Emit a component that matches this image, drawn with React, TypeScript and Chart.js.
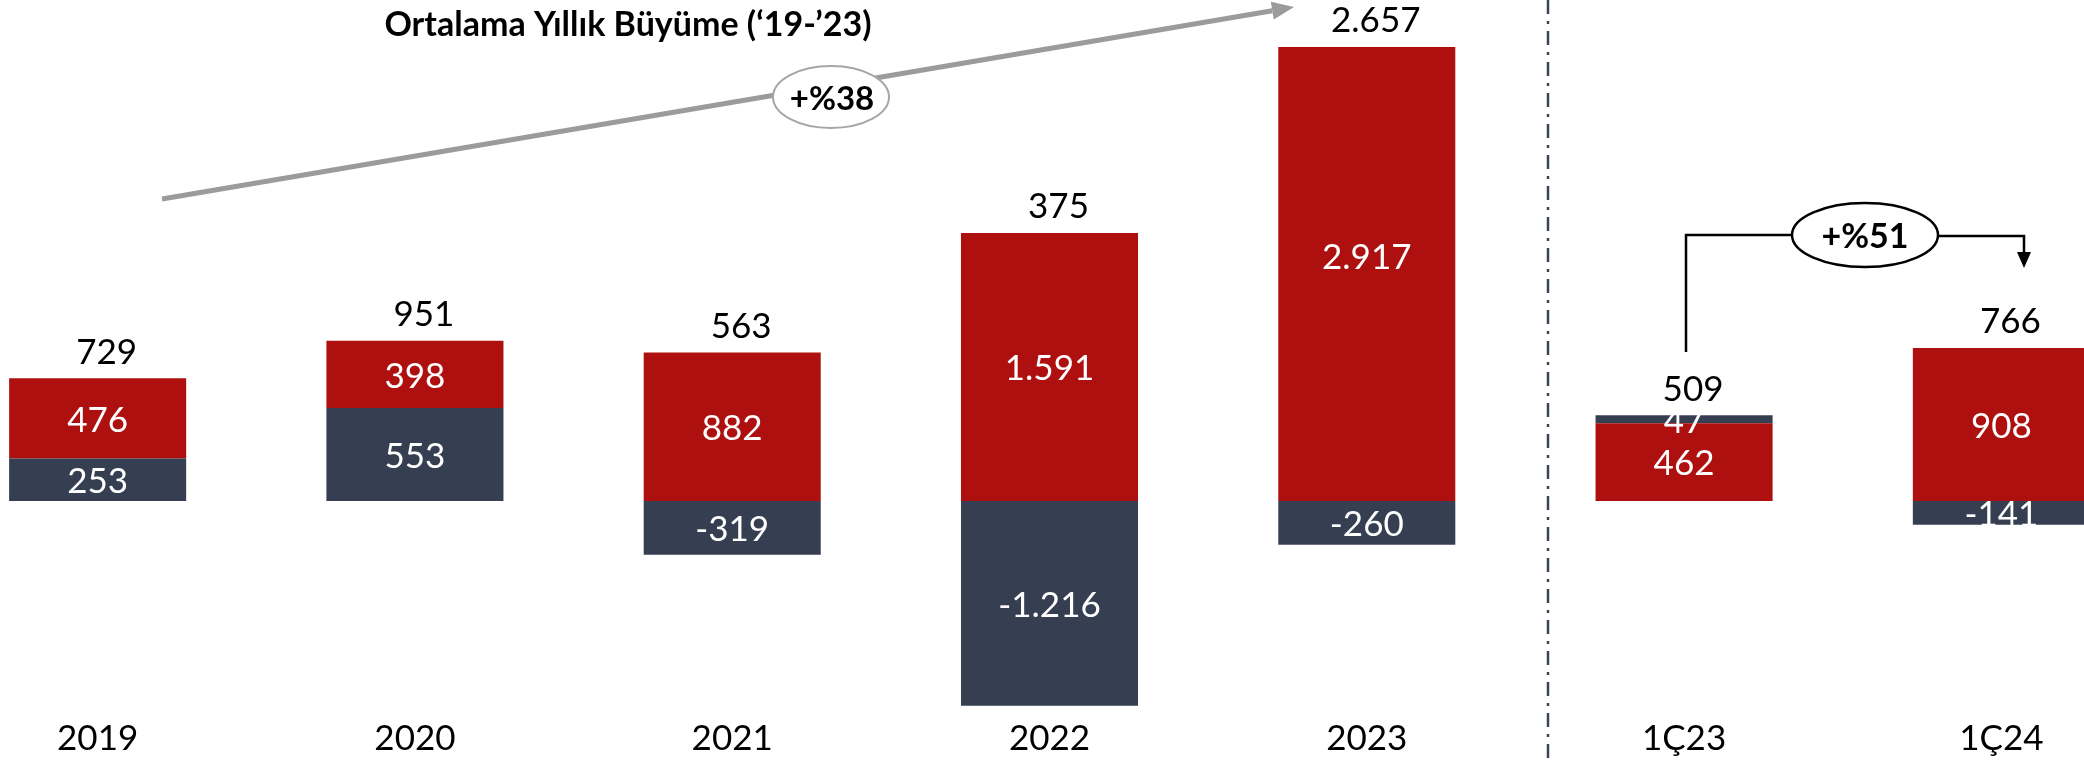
import React, { useEffect, useRef } from "react";
import { Chart, registerables } from "chart.js";

Chart.register(...registerables);

// ---------- data ----------
const categories = ["2019", "2020", "2021", "2022", "2023", "1Ç23", "1Ç24"];
const redValues = [476, 398, 882, 1591, 2917, 462, 908];
const navyValues = [253, 553, -319, -1216, -260, 47, -141];
const navyOnTop = [false, false, false, false, false, true, false];
const totals = [729, 951, 563, 375, 2657, 509, 766];
const titleText = "Ortalama Yıllık Büyüme (‘19-’23)";
const cagrText = "+%38";
const quarterText = "+%51";

// ---------- styling / layout ----------
const RED = "#AE1010";
const NAVY = "#353F51";
const FONT = "Lato, 'Open Sans', sans-serif";
const CANVAS_W = 2221;
const CANVAS_H = 761;
const OFFSET_X = 61; // canvas shifted left so first category is centred like the reference
const Y_MIN = -1247;
const Y_MAX = 2696;

const fmt = (v: number) => {
  const s = Math.abs(Math.round(v))
    .toString()
    .replace(/\B(?=(\d{3})+(?!\d))/g, ".");
  return (v < 0 ? "-" : "") + s;
};

const px = (pageX: number) => pageX + OFFSET_X;

const labelsPlugin = {
  id: "valueLabels",
  afterDatasetsDraw(chart: any) {
    const ctx = chart.ctx as CanvasRenderingContext2D;
    const area = chart.chartArea;
    ctx.save();
    ctx.textAlign = "center";
    ctx.textBaseline = "middle";
    ctx.font = `35px ${FONT}`;
    ctx.fillStyle = "#FFFFFF";
    const tops: number[] = categories.map(() => Infinity);
    chart.data.datasets.forEach((ds: any, di: number) => {
      const meta = chart.getDatasetMeta(di);
      meta.data.forEach((el: any, i: number) => {
        const v = ds.data[i];
        if (v == null) return;
        const { x, y, base } = el.getProps(["x", "y", "base"], true);
        tops[i] = Math.min(tops[i], y, base);
        ctx.fillText(fmt(v), x, (y + base) / 2 + 2);
      });
    });
    // totals
    ctx.fillStyle = "#000000";
    const xs = chart.scales.x;
    totals.forEach((t, i) => {
      const top = Math.max(area.top, tops[i]);
      ctx.fillText(fmt(t), xs.getPixelForValue(i) + 9, top - 26);
    });
    ctx.restore();
  },
};

const decorPlugin = {
  id: "decor",
  afterDraw(chart: any) {
    const ctx = chart.ctx as CanvasRenderingContext2D;
    ctx.save();

    // title
    ctx.fillStyle = "#000";
    ctx.font = `bold 34px ${FONT}`;
    ctx.textAlign = "center";
    ctx.textBaseline = "middle";
    ctx.fillText(titleText, px(628), 25);

    // grey growth arrow
    const x1 = px(162), y1 = 199, x2 = px(1294), y2 = 7;
    const ang = Math.atan2(y2 - y1, x2 - x1);
    const hl = 22, hw = 9;
    ctx.strokeStyle = "#9B9B9B";
    ctx.fillStyle = "#9B9B9B";
    ctx.lineWidth = 5;
    ctx.beginPath();
    ctx.moveTo(x1, y1);
    ctx.lineTo(x2 - Math.cos(ang) * hl, y2 - Math.sin(ang) * hl);
    ctx.stroke();
    ctx.beginPath();
    ctx.moveTo(x2, y2);
    ctx.lineTo(x2 - Math.cos(ang) * hl - Math.sin(ang) * hw, y2 - Math.sin(ang) * hl + Math.cos(ang) * hw);
    ctx.lineTo(x2 - Math.cos(ang) * hl + Math.sin(ang) * hw, y2 - Math.sin(ang) * hl - Math.cos(ang) * hw);
    ctx.closePath();
    ctx.fill();

    // bubble +%38
    ctx.beginPath();
    ctx.ellipse(px(831), 97, 58, 31, 0, 0, Math.PI * 2);
    ctx.fillStyle = "#FFFFFF";
    ctx.fill();
    ctx.lineWidth = 2;
    ctx.strokeStyle = "#A6A6A6";
    ctx.stroke();
    ctx.fillStyle = "#000";
    ctx.font = `bold 33px ${FONT}`;
    ctx.fillText(cagrText, px(832), 99);

    // divider (dash-dot)
    ctx.beginPath();
    ctx.setLineDash([14, 7, 3, 7]);
    ctx.strokeStyle = "#3B4557";
    ctx.lineWidth = 2.5;
    ctx.moveTo(px(1548), 0);
    ctx.lineTo(px(1548), CANVAS_H);
    ctx.stroke();
    ctx.setLineDash([]);

    // quarterly bracket +%51
    const xl = px(1686), xr = px(2024), ly = 235;
    const ecx = px(1865), erx = 73, ery = 32;
    ctx.strokeStyle = "#000";
    ctx.lineWidth = 2.5;
    ctx.beginPath();
    ctx.moveTo(xl, 352);
    ctx.lineTo(xl, ly);
    ctx.lineTo(ecx - erx, ly);
    ctx.stroke();
    ctx.beginPath();
    ctx.moveTo(ecx + erx, ly + 1);
    ctx.lineTo(xr, ly + 1);
    ctx.lineTo(xr, 254);
    ctx.stroke();
    ctx.beginPath();
    ctx.moveTo(xr - 7, 252);
    ctx.lineTo(xr + 7, 252);
    ctx.lineTo(xr, 268);
    ctx.closePath();
    ctx.fillStyle = "#000";
    ctx.fill();
    ctx.beginPath();
    ctx.ellipse(ecx, ly, erx, ery, 0, 0, Math.PI * 2);
    ctx.fillStyle = "#FFF";
    ctx.fill();
    ctx.stroke();
    ctx.fillStyle = "#000";
    ctx.font = `bold 34px ${FONT}`;
    ctx.textAlign = "center";
    ctx.textBaseline = "middle";
    ctx.fillText(quarterText, ecx, ly + 2);

    ctx.restore();
  },
};

export default function App() {
  const ref = useRef<HTMLCanvasElement | null>(null);

  useEffect(() => {
    if (!ref.current) return;
    const common = {
      backgroundColor: NAVY,
      borderWidth: 0,
      barPercentage: 0.558,
      categoryPercentage: 1,
      stack: "s",
      clip: 0,
    };
    const chart = new Chart(ref.current, {
      type: "bar",
      data: {
        labels: categories,
        datasets: [
          { ...common, label: "Net (alt)", data: navyValues.map((v, i) => (navyOnTop[i] ? null : v)) },
          { ...common, label: "Kırmızı", data: redValues, backgroundColor: RED },
          { ...common, label: "Net (üst)", data: navyValues.map((v, i) => (navyOnTop[i] ? v : null)) },
        ],
      },
      options: {
        responsive: false,
        animation: false,
        devicePixelRatio: 1,
        layout: { padding: { top: 47, left: 0, right: 0, bottom: 0 } },
        plugins: { legend: { display: false }, tooltip: { enabled: false }, title: { display: false } },
        scales: {
          x: {
            stacked: true,
            grid: { display: false, drawTicks: false },
            border: { display: false },
            ticks: { color: "#000", font: { family: FONT, size: 35 }, padding: 7, maxRotation: 0, autoSkip: false },
            afterFit: (s: any) => {
              s.height = 50;
            },
          },
          y: {
            stacked: true,
            display: false,
            min: Y_MIN,
            max: Y_MAX,
          },
        },
      } as any,
      plugins: [labelsPlugin, decorPlugin],
    });
    return () => chart.destroy();
  }, []);

  return (
    <div
      style={{
        position: "fixed",
        left: 0,
        top: 0,
        width: 2084,
        height: 761,
        overflow: "hidden",
        background: "#FFFFFF",
      }}
    >
      <canvas
        ref={ref}
        width={CANVAS_W}
        height={CANVAS_H}
        style={{ position: "absolute", left: -OFFSET_X, top: 0, width: CANVAS_W, height: CANVAS_H }}
      />
    </div>
  );
}
